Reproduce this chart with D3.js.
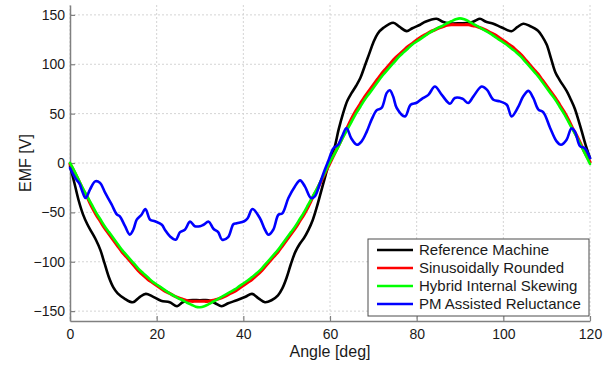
<!DOCTYPE html>
<html>
<head>
<meta charset="utf-8">
<script src="https://cdn.jsdelivr.net/npm/d3@7"></script>
<style>
  html, body { margin: 0; padding: 0; background: #fff; }
  svg { display: block; font-family: "Liberation Sans", Arial, sans-serif; }
</style>
</head>
<body>
<div id="chart"></div>
<script>
// Back-EMF over one electrical period ([deg, V])
const seriesNames = ['Reference Machine', 'Sinusoidally Rounded', 'Hybrid Internal Skewing', 'PM Assisted Reluctance'];
const seriesColors = ['#000000', '#ff0000', '#00ff00', '#0000ff'];

const xTicks = [0, 20, 40, 60, 80, 100, 120];
const yTicks = [-150, -100, -50, 0, 50, 100, 150];

const referenceMachine = [
  [0,-3],[1,-20],[2,-38],[3,-52],[4,-62],[5,-70],[6,-78],[7,-88],[8,-102],[9,-116],[10,-126],
  [11,-132],[12.5,-137],[14.5,-141],[16,-136],[17.5,-132.5],[19,-135],[21,-139.5],[23,-141],
  [24.7,-145],[26,-141],[27.5,-139],[30,-139],[32,-139],[33.5,-142],[35,-145],[36.5,-142],
  [38.5,-139],[40.5,-135.5],[42,-132.5],[43.5,-137],[45,-141],[46.5,-139],[48,-134],[49,-127],
  [50,-116],[51,-102],[52,-90],[53,-82],[54,-76],[55,-68],[56,-58],[57,-44],[58,-28],[59,-12],
  [60,3],[61,15],[62,34],[63,50],[64,63],[65,71],[66,78],[67,86],[68,98],[69,110],[70,122],
  [71,131],[72.3,136.8],[74.6,142],[76,138],[77.7,133.5],[79,136.5],[80.8,140],[82,143],
  [84.6,146],[86,143],[87.5,141.5],[90,141.5],[92.3,142],[93.5,144],[94.6,146],[96,143],
  [97.7,141],[99.5,137.5],[101.9,133.5],[103.2,137.5],[104.6,141],[106,139],[108,134],[109,128],
  [110,120],[111,106],[112,92],[113,84],[114.6,73],[115.6,64],[116.5,55],[117.3,44],[118.1,32],
  [119,18],[120,5]
];

const sinusoidallyRounded = [
  [0,-1],[1,-9],[2,-18],[3,-27],[4,-35],[5,-44],[6,-52],[7,-59],[8,-66],[9,-72],[10,-78],
  [11,-84],[12,-90],[13,-95],[14,-100],[15,-105],[16,-110],[17,-114],[18,-118],[19,-121],
  [20,-124],[21,-127],[22,-130],[23,-132],[24,-134.5],[25,-136.5],[26,-138],[27,-139.5],
  [28,-140],[29,-140],[30,-140],[31,-140],[32,-140],[33,-139],[34,-138],[35,-136.5],[36,-134.5],
  [37,-132],[38,-130],[39,-127],[40,-124],[41,-121],[42,-118],[43,-114],[44,-110],[45,-105],
  [46,-100],[47,-95],[48,-90],[49,-84],[50,-78],[51,-72],[52,-66],[53,-59],[54,-52],[55,-44],
  [56,-35],[57,-27],[58,-18],[59,-9],[60,0],[61,9],[62,18],[63,27],[64,36],[65,45],[66,53],
  [67,60],[68,67],[69,73],[70,79],[71,85],[72,91],[73,96],[74,101],[75,106],[76,110],[77,114],
  [78,118],[79,121],[80,124.5],[81,127.5],[82,130],[83,132.5],[84,134.5],[85,136.5],[86,138],
  [87,139.5],[88,140],[89,140],[90,140],[91,140],[92,140],[93,139],[94,138],[95,136.5],
  [96,134.5],[97,132],[98,130],[99,127],[100,124],[101,121],[102,118],[103,114],[104,110],
  [105,105],[106,100],[107,95],[108,90],[109,84],[110,78],[111,72],[112,66],[113,59],[114,52],
  [115,44],[116,35],[117,27],[118,18],[119,9],[120,1]
];

const hybridSkewing = [
  [0,0],[1,-8],[2,-17],[3,-26],[4,-34],[5,-42],[6,-50],[7,-57],[8,-64],[9,-70],[10,-76],
  [11,-82],[12,-88],[13,-93],[14,-98],[15,-103],[16,-108],[17,-112],[18,-116],[19,-120],
  [20,-123],[21,-126],[22,-129],[23,-132],[24,-134.5],[25,-137],[26,-139],[27,-141.5],
  [28,-143.5],[29,-145.5],[30,-146],[31,-145],[32,-143],[33,-140.5],[34,-138],[35,-135.5],
  [36,-133],[37,-130.5],[38,-128],[39,-125],[40,-122],[41,-119],[42,-115.5],[43,-112],[44,-108],
  [45,-103],[46,-98],[47,-93],[48,-88],[49,-82],[50,-76],[51,-70],[52,-64],[53,-57],[54,-50],
  [55,-42],[56,-34],[57,-26],[58,-17],[59,-8],[60,1],[61,9],[62,17],[63,26],[64,34],[65,42],
  [66,50],[67,57],[68,64],[69,70],[70,76],[71,82],[72,88],[73,93],[74,98],[75,103],[76,108],
  [77,112],[78,116],[79,120],[80,123],[81,126],[82,129],[83,132],[84,134.5],[85,137],[86,139],
  [87,141.5],[88,143.5],[89,145.5],[90,146.5],[91,145.5],[92,143.5],[93,141],[94,138.5],
  [95,136],[96,133.5],[97,131],[98,128],[99,125],[100,122],[101,119],[102,115.5],[103,112],
  [104,108],[105,103],[106,98],[107,93],[108,88],[109,82],[110,76],[111,70],[112,64],[113,57],
  [114,50],[115,42],[116,34],[117,26],[118,17],[119,8],[120,-1]
];

const pmAssisted = [
  [0,-5],[0.8,-12],[1.5,-17],[2.2,-21],[2.7,-27],[3.6,-35.5],[4.6,-27],[5.8,-18.6],[6.9,-20],
  [8.1,-30],[9.6,-42],[10.8,-52],[11.5,-54],[12.7,-64],[13.8,-72.5],[14.6,-67.6],[15.4,-57.4],
  [16.5,-52.4],[17.4,-46.6],[18.5,-57.4],[19.6,-59],[21.2,-62.5],[21.9,-67.6],[23.1,-74.4],
  [24.4,-77.7],[25.4,-70],[26.5,-67.6],[27.7,-59.4],[28.8,-64],[30,-64],[30.8,-62.5],[32,-59.4],
  [33.1,-66.6],[34.2,-70],[35.1,-77.7],[36.5,-75],[37.7,-62],[38.5,-61],[40.2,-59],[41,-56],
  [42.1,-46.6],[43.8,-55.7],[45,-67.6],[45.8,-72.6],[46.9,-67.6],[48.1,-52.4],[49,-51],
  [50.4,-35.5],[51.9,-23.7],[53.1,-17.6],[54.2,-23.7],[55.6,-35.5],[56.5,-33.8],[57.7,-20.3],
  [58.8,-6.8],[59.6,2],[60.8,15],[61.9,18.5],[62.8,27],[63.8,35.5],[64.9,25],[66.2,18.5],
  [67.3,22],[68.5,32],[69.6,43.9],[70.8,53.5],[71.9,55.7],[73.1,71],[73.8,73.6],[74.6,67],
  [75.4,55.7],[77.3,47.2],[78.6,59],[80,61],[81.2,65],[82.7,69],[84.2,77.5],[85.8,69],[87.7,60],
  [88.8,65.9],[90.6,65],[91.9,60.8],[93.1,67.5],[95,77.5],[96.2,74.3],[97.7,64.1],[99.2,62.4],
  [100.8,59],[101.9,47.2],[103.5,57.4],[104.6,67.5],[105.8,73],[106.9,65.9],[108.1,54],
  [109.2,51.5],[110.8,35.5],[112.3,21.9],[113.3,18.5],[114.6,23.6],[115.7,35],[116.5,32],
  [117.7,17],[118.8,15],[120,5]
];

const allSeries = [referenceMachine, sinusoidallyRounded, hybridSkewing, pmAssisted];

// Layout
const width = 616, height = 365;
const margin = { top: 5, right: 26, bottom: 44, left: 70 };
const innerW = width - margin.left - margin.right;
const innerH = height - margin.top - margin.bottom;

const svg = d3.select('#chart')
  .append('svg')
    .attr('width', width)
    .attr('height', height);

const g = svg.append('g')
  .attr('transform', `translate(${margin.left},${margin.top})`);

const x = d3.scaleLinear().domain([0, 120]).range([0, innerW]);
const y = d3.scaleLinear().domain([-160, 160]).range([innerH, 0]);

// Dotted grid
g.append('g')
  .selectAll('line')
  .data(xTicks)
  .join('line')
    .attr('x1', d => x(d)).attr('x2', d => x(d))
    .attr('y1', 0).attr('y2', innerH)
    .attr('stroke', '#d4d4d4')
    .attr('stroke-dasharray', '2,2');

g.append('g')
  .selectAll('line')
  .data(yTicks)
  .join('line')
    .attr('x1', 0).attr('x2', innerW)
    .attr('y1', d => y(d)).attr('y2', d => y(d))
    .attr('stroke', '#d4d4d4')
    .attr('stroke-dasharray', '2,2');

// Axes (ticks point inward, no box)
const xAxis = g.append('g')
  .attr('transform', `translate(0,${innerH})`)
  .call(d3.axisBottom(x).tickValues(xTicks).tickSizeInner(-5).tickSizeOuter(0).tickPadding(8));

const yAxis = g.append('g')
  .call(d3.axisLeft(y).tickValues(yTicks).tickSizeInner(-5).tickSizeOuter(0).tickPadding(5));

[xAxis, yAxis].forEach(ax => {
  ax.select('.domain').attr('stroke', '#808080').attr('stroke-width', 1.5);
  ax.selectAll('.tick line').attr('stroke', '#808080').attr('stroke-width', 1.2);
  ax.selectAll('.tick text')
    .attr('fill', '#1a1a1a')
    .style('font-size', '14px')
    .style('font-family', '"Liberation Sans", Arial, sans-serif');
});

// Curves
const line = d3.line()
  .x(d => x(d[0]))
  .y(d => y(d[1]))
  .curve(d3.curveCatmullRom.alpha(0.5));

const widths = [2.6, 3.2, 2.6, 2.6];

g.append('g')
  .selectAll('path')
  .data(allSeries)
  .join('path')
    .attr('d', line)
    .attr('fill', 'none')
    .attr('stroke', (d, i) => seriesColors[i])
    .attr('stroke-width', (d, i) => widths[i])
    .attr('stroke-linejoin', 'round')
    .attr('stroke-linecap', 'round');

// Axis labels
svg.append('text')
  .attr('x', margin.left + innerW / 2)
  .attr('y', 357)
  .attr('text-anchor', 'middle')
  .style('font-size', '16px')
  .attr('fill', '#1a1a1a')
  .text('Angle [deg]');

svg.append('text')
  .attr('transform', `translate(31,${margin.top + y(0)}) rotate(-90)`)
  .attr('text-anchor', 'middle')
  .style('font-size', '16px')
  .attr('fill', '#1a1a1a')
  .text('EMF [V]');

// Legend
const legend = svg.append('g').attr('transform', 'translate(368,239)');

legend.append('rect')
  .attr('width', 221)
  .attr('height', 77)
  .attr('fill', '#fff')
  .attr('stroke', '#4d4d4d')
  .attr('stroke-width', 1);

const item = legend.selectAll('g.item')
  .data(seriesNames)
  .join('g')
    .attr('class', 'item')
    .attr('transform', (d, i) => `translate(0,${11 + i * 18})`);

item.append('line')
  .attr('x1', 9).attr('x2', 45)
  .attr('stroke', (d, i) => seriesColors[i])
  .attr('stroke-width', 2.6);

item.append('text')
  .attr('x', 51)
  .attr('dy', '0.35em')
  .style('font-size', '15px')
  .attr('fill', '#1a1a1a')
  .text(d => d);
</script>
</body>
</html>
